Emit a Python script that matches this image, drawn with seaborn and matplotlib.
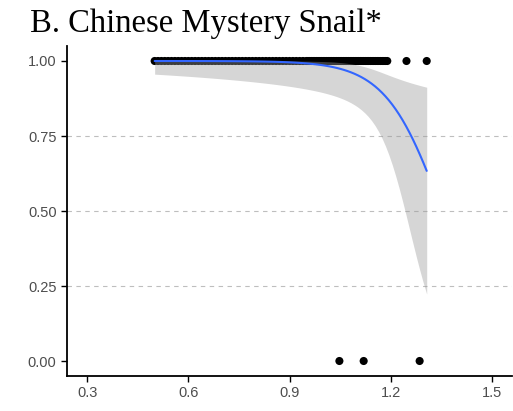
import numpy as np
import pandas as pd
import seaborn as sns
import matplotlib.pyplot as plt

# Shell length (x) for snails that survived (1) or died (0);
# repeated values are separate snails of the same measured size
x_survived = [0.50, 0.51, 0.52, 0.53, 0.54, 0.55, 0.56, 0.57, 0.58, 0.59,
              0.60, 0.61, 0.62, 0.63, 0.64, 0.65, 0.66, 0.67, 0.68, 0.69,
              0.70, 0.71, 0.72, 0.73, 0.74, 0.75, 0.76, 0.77, 0.78, 0.79,
              0.80, 0.81, 0.82, 0.83, 0.84, 0.85, 0.86, 0.87, 0.88, 0.89,
              0.90, 0.91, 0.92, 0.93, 0.94, 0.95, 0.955, 0.96, 0.965, 0.97,
              0.975, 0.98, 0.985, 0.99, 0.995, 1.00, 1.005, 1.01, 1.015, 1.02,
              1.025, 1.03, 1.035, 1.04, 1.045, 1.05, 1.055, 1.06, 1.065, 1.07,
              1.075, 1.08, 1.085, 1.09, 1.095, 1.10, 1.105, 1.11, 1.115, 1.12,
              1.125, 1.13, 1.135, 1.14, 1.145, 1.15, 1.155, 1.16, 1.165, 1.17,
              1.175, 1.18, 1.185, 1.19, 1.19, 1.247, 1.307, 1.307]
x_died = [1.048, 1.12, 1.286, 1.286]

x_ticks = [0.3, 0.6, 0.9, 1.2, 1.5]
y_ticks = [0.00, 0.25, 0.50, 0.75, 1.00]
ref_lines = [0.25, 0.50, 0.75]

df = pd.DataFrame({
    "size": x_survived + x_died,
    "alive": [1] * len(x_survived) + [0] * len(x_died),
})

# Binomial GLM (logit link) fitted by iteratively reweighted least squares
X = np.column_stack([np.ones(len(df)), df["size"].to_numpy()])
y = df["alive"].to_numpy(dtype=float)
beta = np.zeros(2)
for _ in range(100):
    eta = X @ beta
    p = 1.0 / (1.0 + np.exp(-eta))
    w = np.clip(p * (1 - p), 1e-12, None)
    z = eta + (y - p) / w
    XtW = X.T * w
    beta = np.linalg.solve(XtW @ X, XtW @ z)
eta = X @ beta
p = 1.0 / (1.0 + np.exp(-eta))
w = p * (1 - p)
cov = np.linalg.inv((X.T * w) @ X)

grid = np.linspace(df["size"].min(), df["size"].max(), 80)
G = np.column_stack([np.ones_like(grid), grid])
eta_g = G @ beta
se_g = np.sqrt(np.einsum("ij,jk,ik->i", G, cov, G))
inv = lambda e: 1.0 / (1.0 + np.exp(-e))
fit = pd.DataFrame({"size": grid, "fit": inv(eta_g),
                    "lo": inv(eta_g - 1.96 * se_g), "hi": inv(eta_g + 1.96 * se_g)})

sns.set_style("white")
plt.rcParams["font.family"] = ["Liberation Sans", "DejaVu Sans"]

fig = plt.figure(figsize=(5.13, 4.11), dpi=100)
ax = fig.add_axes([67 / 513, 35 / 411, (512 - 67) / 513, (365 - 35) / 411])

for yv in ref_lines:
    ax.axhline(yv, color="#BEBEBE", lw=0.8, ls=(0, (4, 4)), zorder=0)

# one dot per distinct position so overlapping snails do not thicken the marks
dots = df.drop_duplicates()
sns.scatterplot(data=dots, x="size", y="alive", color="black", s=34,
                edgecolor="none", linewidth=0, ax=ax, zorder=2)
ax.fill_between(fit["size"], fit["lo"], fit["hi"], color="#999999",
                alpha=0.4, linewidth=0, zorder=3)
sns.lineplot(data=fit, x="size", y="fit", color="#3366FF", lw=1.5,
             ax=ax, zorder=4)

ax.set_xlim(0.24, 1.56)
ax.set_ylim(-0.05, 1.05)
ax.set_xticks(x_ticks)
ax.set_xticklabels([f"{v:.1f}" for v in x_ticks])
ax.set_yticks(y_ticks)
ax.set_yticklabels([f"{v:.2f}" for v in y_ticks])
ax.set_xlabel("")
ax.set_ylabel("")

for side in ["top", "right"]:
    ax.spines[side].set_visible(False)
for side in ["left", "bottom"]:
    ax.spines[side].set_color("black")
    ax.spines[side].set_linewidth(1.3)

ax.tick_params(axis="both", which="major", length=4.5, width=1.0,
               color="black", labelcolor="#4D4D4D", labelsize=10.5,
               bottom=True, left=True)
ax.tick_params(axis="x", pad=3)
ax.tick_params(axis="y", pad=3)

fig.text(30 / 513, 1 - 32 / 411, "B. Chinese Mystery Snail*",
         family="Liberation Serif", fontsize=23.5, color="black",
         ha="left", va="baseline")

fig.savefig("out.png", dpi=100)
